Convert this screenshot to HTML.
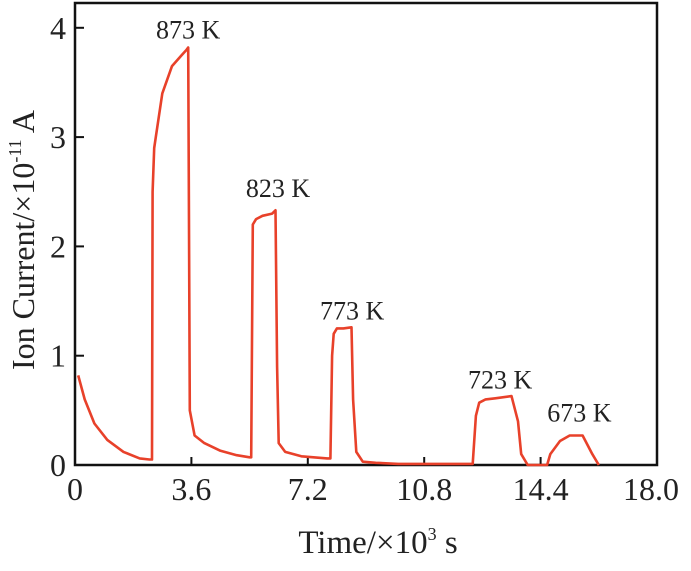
<!DOCTYPE html>
<html><head><meta charset="utf-8"><style>
body{margin:0;background:#fff}
svg text{font-family:"Liberation Serif",serif;fill:#222}
</style></head><body>
<svg id="chart" width="691" height="566">
<rect x="75" y="3" width="582" height="462" fill="none" stroke="#111" stroke-width="2.5"/>
<g id="ticks"></g>
<path id="series" fill="none" stroke="#e8412a" stroke-width="2.6" stroke-linejoin="round"/>
<g id="labels"></g>
<text x="378" y="553" font-size="33" text-anchor="middle">Time/×10<tspan font-size="18" dy="-13">3</tspan><tspan dy="13"> s</tspan></text>
<text transform="translate(34,240) rotate(-90)" font-size="32" text-anchor="middle">Ion Current/×10<tspan font-size="18" dy="-13">-11</tspan><tspan dy="13"> A</tspan></text>
</svg>
<script>
const xTicks=[0,3.6,7.2,10.8,14.4,18.0];
const xTickLabels=["0","3.6","7.2","10.8","14.4","18.0"];
const yTicks=[0,1,2,3,4];
const yTickLabels=["0","1","2","3","4"];
const times=[0.1,0.3,0.6,1.0,1.5,2.0,2.3,2.38,2.4,2.45,2.5,2.7,3.0,3.3,3.45,3.5,3.52,3.55,3.7,4.0,4.5,5.0,5.4,5.45,5.5,5.6,5.8,6.1,6.2,6.25,6.3,6.5,7.0,7.8,7.9,7.95,8.0,8.1,8.3,8.55,8.6,8.7,8.9,9.3,10.0,12.3,12.4,12.5,12.7,13.0,13.5,13.7,13.8,14.0,14.6,14.7,15.0,15.3,15.7,16.0,16.2];
const values=[0.82,0.6,0.38,0.23,0.12,0.06,0.05,0.05,2.5,2.9,3.0,3.4,3.65,3.75,3.8,3.82,2.6,0.5,0.27,0.2,0.13,0.09,0.07,0.07,2.2,2.25,2.28,2.3,2.33,0.9,0.2,0.12,0.08,0.06,0.06,1.0,1.2,1.25,1.25,1.26,0.6,0.12,0.03,0.02,0.01,0.01,0.45,0.57,0.6,0.61,0.63,0.4,0.1,0.0,0.0,0.1,0.22,0.27,0.27,0.1,0.0];
const peakLabels=["873 K","823 K","773 K","723 K","673 K"];
const peakTimes=[3.5,6.28,8.57,13.15,15.6];
const peakValues=[3.9,2.45,1.33,0.7,0.4];
const sx=t=>75+t*(582/18), sy=v=>465-v*109.3;
const ns="http://www.w3.org/2000/svg";
const tg=document.getElementById('ticks'), lg=document.getElementById('labels');
xTicks.forEach((t,i)=>{
 const l=document.createElementNS(ns,'line');l.setAttribute('x1',sx(t));l.setAttribute('x2',sx(t));l.setAttribute('y1',465);l.setAttribute('y2',457);l.setAttribute('stroke','#111');l.setAttribute('stroke-width','2');
 
 
 tg.appendChild(l);
 const tx=document.createElementNS(ns,'text');tx.setAttribute('x',i==5?sx(t)-6:sx(t));tx.setAttribute('y',500);tx.setAttribute('font-size','32');tx.setAttribute('text-anchor','middle');tx.textContent=xTickLabels[i];
 
 
 tg.appendChild(tx);
});
yTicks.forEach((v,i)=>{
 const l=document.createElementNS(ns,'line');l.setAttribute('x1',75);l.setAttribute('x2',84);l.setAttribute('y1',sy(v));l.setAttribute('y2',sy(v));l.setAttribute('stroke','#111');l.setAttribute('stroke-width','2');
 
 
 tg.appendChild(l);
 const tx=document.createElementNS(ns,'text');tx.setAttribute('x',66);tx.setAttribute('y',sy(v)+11);tx.setAttribute('font-size','32');tx.setAttribute('text-anchor','end');tx.textContent=yTickLabels[i];
 
 
 tg.appendChild(tx);
});
document.getElementById('series').setAttribute('d',times.map((t,i)=>(i?'L':'M')+sx(t).toFixed(1)+','+sy(values[i]).toFixed(1)).join(''));
peakLabels.forEach((s,i)=>{
 const tx=document.createElementNS(ns,'text');tx.setAttribute('x',sx(peakTimes[i]));tx.setAttribute('y',sy(peakValues[i]));tx.setAttribute('font-size','26');tx.setAttribute('text-anchor','middle');tx.textContent=s;
 
 
 lg.appendChild(tx);
});
</script>
</body></html>
